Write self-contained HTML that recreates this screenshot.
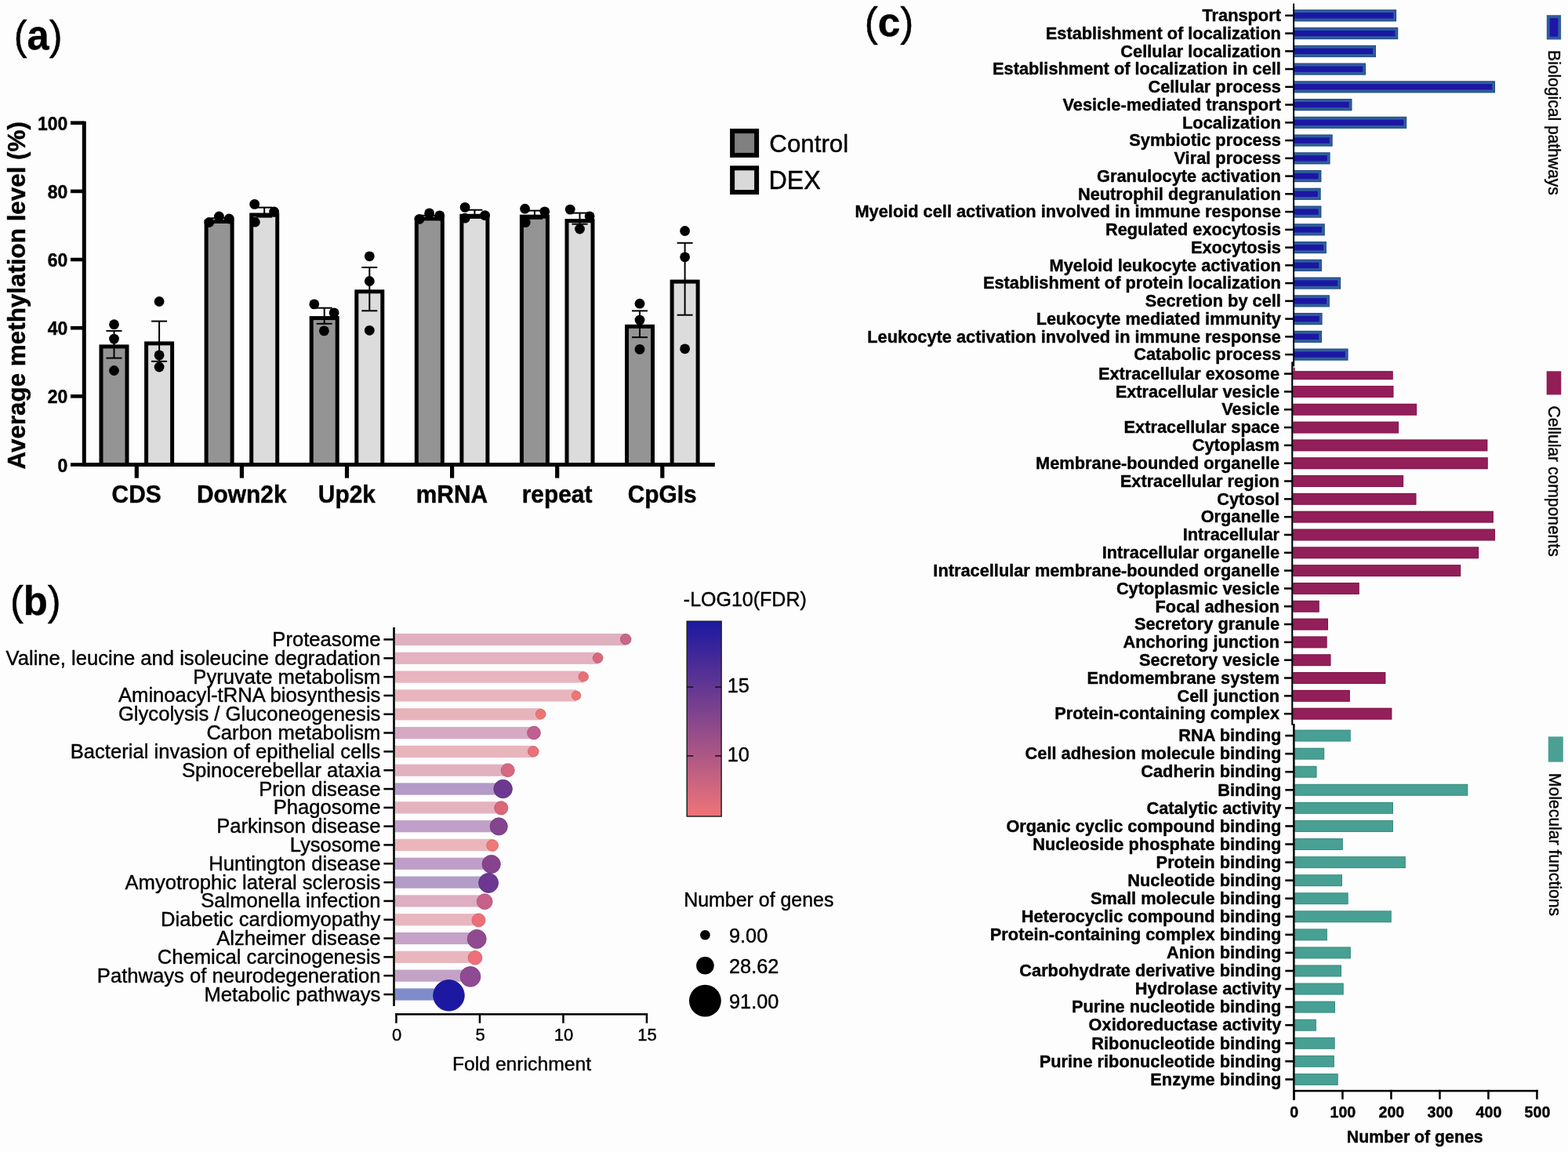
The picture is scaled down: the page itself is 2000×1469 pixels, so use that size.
<!DOCTYPE html>
<html><head><meta charset="utf-8"><title>Figure</title>
<style>
html,body{margin:0;padding:0;background:#fdfdfd;}
svg{display:block;}
text{font-family:'Liberation Sans', Arial, Helvetica, sans-serif;fill:#000;stroke:#000;stroke-width:0.4px;stroke-linejoin:round;}
</style></head>
<body>
<svg width="2000" height="1469" viewBox="0 0 2000 1469">
<rect width="2000" height="1469" fill="#fdfdfd"/>
<rect x="104.8" y="154.6" width="5" height="440.4" fill="#000"/>
<rect x="90" y="590.2" width="17" height="4.6" fill="#000"/>
<text transform="translate(86.35,601.54) scale(1.0520,1.0883)" font-size="21.8" font-weight="bold" text-anchor="end">0</text>
<rect x="90" y="503.0" width="17" height="4.6" fill="#000"/>
<text transform="translate(86.35,514.38) scale(1.0520,1.0883)" font-size="21.8" font-weight="bold" text-anchor="end">20</text>
<rect x="90" y="415.9" width="17" height="4.6" fill="#000"/>
<text transform="translate(86.35,427.22) scale(1.0520,1.0883)" font-size="21.8" font-weight="bold" text-anchor="end">40</text>
<rect x="90" y="328.7" width="17" height="4.6" fill="#000"/>
<text transform="translate(86.35,340.06) scale(1.0520,1.0883)" font-size="21.8" font-weight="bold" text-anchor="end">60</text>
<rect x="90" y="241.6" width="17" height="4.6" fill="#000"/>
<text transform="translate(86.35,252.90) scale(1.0520,1.0883)" font-size="21.8" font-weight="bold" text-anchor="end">80</text>
<rect x="90" y="154.4" width="17" height="4.6" fill="#000"/>
<text transform="translate(86.35,165.74) scale(1.0520,1.0883)" font-size="21.8" font-weight="bold" text-anchor="end">100</text>
<rect x="104.8" y="590" width="807" height="5" fill="#000"/>
<rect x="171.7" y="592" width="5.2" height="17.6" fill="#000"/>
<text transform="translate(174.14,641.23) scale(1.0229,1.0600)" font-size="29.2" font-weight="bold" text-anchor="middle">CDS</text>
<rect x="305.8" y="592" width="5.2" height="17.6" fill="#000"/>
<text transform="translate(308.24,641.23) scale(1.0229,1.0600)" font-size="29.2" font-weight="bold" text-anchor="middle">Down2k</text>
<rect x="439.9" y="592" width="5.2" height="17.6" fill="#000"/>
<text transform="translate(442.34,641.23) scale(1.0229,1.0600)" font-size="29.2" font-weight="bold" text-anchor="middle">Up2k</text>
<rect x="574.0" y="592" width="5.2" height="17.6" fill="#000"/>
<text transform="translate(576.44,641.23) scale(1.0229,1.0600)" font-size="29.2" font-weight="bold" text-anchor="middle">mRNA</text>
<rect x="708.1" y="592" width="5.2" height="17.6" fill="#000"/>
<text transform="translate(710.54,641.23) scale(1.0229,1.0600)" font-size="29.2" font-weight="bold" text-anchor="middle">repeat</text>
<rect x="842.2" y="592" width="5.2" height="17.6" fill="#000"/>
<text transform="translate(844.64,641.23) scale(1.0229,1.0600)" font-size="29.2" font-weight="bold" text-anchor="middle">CpGIs</text>
<rect x="126.5" y="439.4" width="38" height="151.6" fill="#000"/>
<rect x="131.5" y="444.4" width="28" height="145.6" fill="#949494"/>
<line x1="145.5" y1="421.9" x2="145.5" y2="456.6" stroke="#000" stroke-width="2"/>
<line x1="135.5" y1="421.9" x2="155.5" y2="421.9" stroke="#000" stroke-width="2"/>
<line x1="135.5" y1="456.6" x2="155.5" y2="456.6" stroke="#000" stroke-width="2"/>
<circle cx="145.5" cy="413.7" r="6.4" fill="#000"/>
<circle cx="145.5" cy="432.1" r="6.4" fill="#000"/>
<circle cx="145.5" cy="472.5" r="6.4" fill="#000"/>
<rect x="184.1" y="435.4" width="38" height="155.6" fill="#000"/>
<rect x="189.1" y="440.4" width="28" height="149.6" fill="#dcdcdc"/>
<line x1="203.1" y1="409.6" x2="203.1" y2="460.8" stroke="#000" stroke-width="2"/>
<line x1="193.1" y1="409.6" x2="213.1" y2="409.6" stroke="#000" stroke-width="2"/>
<line x1="193.1" y1="460.8" x2="213.1" y2="460.8" stroke="#000" stroke-width="2"/>
<circle cx="203.1" cy="384.5" r="6.4" fill="#000"/>
<circle cx="203.1" cy="452.9" r="6.4" fill="#000"/>
<circle cx="203.1" cy="468.0" r="6.4" fill="#000"/>
<rect x="260.6" y="280.0" width="38" height="311.0" fill="#000"/>
<rect x="265.6" y="285.0" width="28" height="305.0" fill="#949494"/>
<line x1="279.6" y1="278.2" x2="279.6" y2="281.8" stroke="#000" stroke-width="2"/>
<line x1="269.6" y1="278.2" x2="289.6" y2="278.2" stroke="#000" stroke-width="2"/>
<line x1="269.6" y1="281.8" x2="289.6" y2="281.8" stroke="#000" stroke-width="2"/>
<circle cx="266.8" cy="283.5" r="6.4" fill="#000"/>
<circle cx="279.4" cy="276.0" r="6.4" fill="#000"/>
<circle cx="292.3" cy="279.0" r="6.4" fill="#000"/>
<rect x="318.2" y="271.5" width="38" height="319.5" fill="#000"/>
<rect x="323.2" y="276.5" width="28" height="313.5" fill="#dcdcdc"/>
<line x1="337.2" y1="264.6" x2="337.2" y2="276.6" stroke="#000" stroke-width="2"/>
<line x1="327.2" y1="264.6" x2="347.2" y2="264.6" stroke="#000" stroke-width="2"/>
<line x1="327.2" y1="276.6" x2="347.2" y2="276.6" stroke="#000" stroke-width="2"/>
<circle cx="324.7" cy="260.4" r="6.4" fill="#000"/>
<circle cx="349.6" cy="270.0" r="6.4" fill="#000"/>
<circle cx="325.3" cy="283.2" r="6.4" fill="#000"/>
<rect x="394.7" y="403.1" width="38" height="187.9" fill="#000"/>
<rect x="399.7" y="408.1" width="28" height="181.9" fill="#949494"/>
<line x1="413.7" y1="392.7" x2="413.7" y2="412.8" stroke="#000" stroke-width="2"/>
<line x1="403.7" y1="392.7" x2="423.7" y2="392.7" stroke="#000" stroke-width="2"/>
<line x1="403.7" y1="412.8" x2="423.7" y2="412.8" stroke="#000" stroke-width="2"/>
<circle cx="400.8" cy="387.9" r="6.4" fill="#000"/>
<circle cx="426.1" cy="398.9" r="6.4" fill="#000"/>
<circle cx="413.4" cy="421.9" r="6.4" fill="#000"/>
<rect x="452.3" y="369.3" width="38" height="221.7" fill="#000"/>
<rect x="457.3" y="374.3" width="28" height="215.7" fill="#dcdcdc"/>
<line x1="471.3" y1="341.0" x2="471.3" y2="396.3" stroke="#000" stroke-width="2"/>
<line x1="461.3" y1="341.0" x2="481.3" y2="341.0" stroke="#000" stroke-width="2"/>
<line x1="461.3" y1="396.3" x2="481.3" y2="396.3" stroke="#000" stroke-width="2"/>
<circle cx="471.3" cy="326.8" r="6.4" fill="#000"/>
<circle cx="471.3" cy="358.5" r="6.4" fill="#000"/>
<circle cx="471.3" cy="421.3" r="6.4" fill="#000"/>
<rect x="528.8" y="276.4" width="38" height="314.6" fill="#000"/>
<rect x="533.8" y="281.4" width="28" height="308.6" fill="#949494"/>
<line x1="547.8" y1="274.8" x2="547.8" y2="278.0" stroke="#000" stroke-width="2"/>
<line x1="537.8" y1="274.8" x2="557.8" y2="274.8" stroke="#000" stroke-width="2"/>
<line x1="537.8" y1="278.0" x2="557.8" y2="278.0" stroke="#000" stroke-width="2"/>
<circle cx="535.0" cy="279.4" r="6.4" fill="#000"/>
<circle cx="547.6" cy="271.9" r="6.4" fill="#000"/>
<circle cx="560.8" cy="274.9" r="6.4" fill="#000"/>
<rect x="586.4" y="272.8" width="38" height="318.2" fill="#000"/>
<rect x="591.4" y="277.8" width="28" height="312.2" fill="#dcdcdc"/>
<line x1="605.4" y1="267.7" x2="605.4" y2="277.9" stroke="#000" stroke-width="2"/>
<line x1="595.4" y1="267.7" x2="615.4" y2="267.7" stroke="#000" stroke-width="2"/>
<line x1="595.4" y1="277.9" x2="615.4" y2="277.9" stroke="#000" stroke-width="2"/>
<circle cx="593.1" cy="264.4" r="6.4" fill="#000"/>
<circle cx="618.6" cy="274.6" r="6.4" fill="#000"/>
<circle cx="593.1" cy="278.2" r="6.4" fill="#000"/>
<rect x="662.9" y="273.7" width="38" height="317.3" fill="#000"/>
<rect x="667.9" y="278.7" width="28" height="311.3" fill="#949494"/>
<line x1="681.9" y1="268.6" x2="681.9" y2="278.8" stroke="#000" stroke-width="2"/>
<line x1="671.9" y1="268.6" x2="691.9" y2="268.6" stroke="#000" stroke-width="2"/>
<line x1="671.9" y1="278.8" x2="691.9" y2="278.8" stroke="#000" stroke-width="2"/>
<circle cx="669.6" cy="266.2" r="6.4" fill="#000"/>
<circle cx="694.8" cy="269.8" r="6.4" fill="#000"/>
<circle cx="670.2" cy="283.6" r="6.4" fill="#000"/>
<rect x="720.5" y="279.1" width="38" height="311.9" fill="#000"/>
<rect x="725.5" y="284.1" width="28" height="305.9" fill="#dcdcdc"/>
<line x1="739.5" y1="271.6" x2="739.5" y2="285.7" stroke="#000" stroke-width="2"/>
<line x1="729.5" y1="271.6" x2="749.5" y2="271.6" stroke="#000" stroke-width="2"/>
<line x1="729.5" y1="285.7" x2="749.5" y2="285.7" stroke="#000" stroke-width="2"/>
<circle cx="727.2" cy="267.1" r="6.4" fill="#000"/>
<circle cx="752.1" cy="275.8" r="6.4" fill="#000"/>
<circle cx="739.5" cy="292.0" r="6.4" fill="#000"/>
<rect x="797.0" y="413.8" width="38" height="177.2" fill="#000"/>
<rect x="802.0" y="418.8" width="28" height="171.2" fill="#949494"/>
<line x1="816.0" y1="396.4" x2="816.0" y2="430.1" stroke="#000" stroke-width="2"/>
<line x1="806.0" y1="396.4" x2="826.0" y2="396.4" stroke="#000" stroke-width="2"/>
<line x1="806.0" y1="430.1" x2="826.0" y2="430.1" stroke="#000" stroke-width="2"/>
<circle cx="816.0" cy="387.2" r="6.4" fill="#000"/>
<circle cx="816.0" cy="408.1" r="6.4" fill="#000"/>
<circle cx="816.0" cy="445.4" r="6.4" fill="#000"/>
<rect x="854.6" y="356.6" width="38" height="234.4" fill="#000"/>
<rect x="859.6" y="361.6" width="28" height="228.4" fill="#dcdcdc"/>
<line x1="873.6" y1="309.8" x2="873.6" y2="401.7" stroke="#000" stroke-width="2"/>
<line x1="863.6" y1="309.8" x2="883.6" y2="309.8" stroke="#000" stroke-width="2"/>
<line x1="863.6" y1="401.7" x2="883.6" y2="401.7" stroke="#000" stroke-width="2"/>
<circle cx="873.6" cy="294.5" r="6.4" fill="#000"/>
<circle cx="873.6" cy="327.8" r="6.4" fill="#000"/>
<circle cx="873.6" cy="444.8" r="6.4" fill="#000"/>
<text transform="translate(31.60,598.51) rotate(-90) scale(1.0028,1.0000)" font-size="31.3" font-weight="bold">Average methylation level (%)</text>
<rect x="931.1" y="164.1" width="37" height="36.8" fill="#000"/>
<rect x="937.1" y="170.1" width="25" height="24.8" fill="#808080"/>
<text transform="translate(981.34,194.20) scale(1.0266,1.0247)" font-size="30.5">Control</text>
<rect x="931.1" y="211.3" width="37" height="36.8" fill="#000"/>
<rect x="937.1" y="217.3" width="25" height="24.8" fill="#d9d9d9"/>
<text transform="translate(980.54,240.87) scale(1.0582,1.1012)" font-size="30.5">DEX</text>
<text transform="translate(17.74,62.74) scale(1.0118,1.0415)" font-size="50"><tspan>(</tspan><tspan font-weight="bold">a</tspan><tspan>)</tspan></text>
<rect x="503.8" y="807.90" width="294.4" height="15.2" fill="#dfb0c0"/>
<circle cx="798.2" cy="815.2" r="6.80" fill="#c9658a" stroke="#aa5575" stroke-width="0.8"/>
<rect x="489.4" y="814.2" width="13.5" height="2.5" fill="#000"/>
<text transform="translate(485.41,824.02) scale(1.0047,1.0000)" font-size="25.5" text-anchor="end">Proteasome</text>
<rect x="503.8" y="831.72" width="258.8" height="15.2" fill="#e4b2c0"/>
<circle cx="762.6" cy="839.0" r="6.40" fill="#d86878" stroke="#b75866" stroke-width="0.8"/>
<rect x="489.4" y="838.1" width="13.5" height="2.5" fill="#000"/>
<text transform="translate(485.41,847.84) scale(1.0047,1.0000)" font-size="25.5" text-anchor="end">Valine, leucine and isoleucine degradation</text>
<rect x="503.8" y="855.53" width="240.4" height="15.2" fill="#e8b4bd"/>
<circle cx="744.2" cy="862.9" r="6.20" fill="#e87078" stroke="#c55f66" stroke-width="0.8"/>
<rect x="489.4" y="861.9" width="13.5" height="2.5" fill="#000"/>
<text transform="translate(485.41,871.65) scale(1.0047,1.0000)" font-size="25.5" text-anchor="end">Pyruvate metabolism</text>
<rect x="503.8" y="879.35" width="231.2" height="15.2" fill="#e9b5bc"/>
<circle cx="735" cy="886.9" r="5.80" fill="#ef7575" stroke="#cb6363" stroke-width="0.8"/>
<rect x="489.4" y="885.7" width="13.5" height="2.5" fill="#000"/>
<text transform="translate(485.41,895.47) scale(1.0047,1.0000)" font-size="25.5" text-anchor="end">Aminoacyl-tRNA biosynthesis</text>
<rect x="503.8" y="903.16" width="185.9" height="15.2" fill="#e8b4bc"/>
<circle cx="689.7" cy="910.6" r="6.35" fill="#ef7575" stroke="#cb6363" stroke-width="0.8"/>
<rect x="489.4" y="909.5" width="13.5" height="2.5" fill="#000"/>
<text transform="translate(485.41,919.29) scale(1.0047,1.0000)" font-size="25.5" text-anchor="end">Glycolysis / Gluconeogenesis</text>
<rect x="503.8" y="926.98" width="177.2" height="15.2" fill="#d6a9c2"/>
<circle cx="681" cy="934.5" r="8.40" fill="#c06090" stroke="#a3517a" stroke-width="0.8"/>
<rect x="489.4" y="933.3" width="13.5" height="2.5" fill="#000"/>
<text transform="translate(485.41,943.10) scale(1.0047,1.0000)" font-size="25.5" text-anchor="end">Carbon metabolism</text>
<rect x="503.8" y="950.80" width="176.5" height="15.2" fill="#e8b5bd"/>
<circle cx="680.3" cy="958.3" r="6.80" fill="#ec7078" stroke="#c85f66" stroke-width="0.8"/>
<rect x="489.4" y="957.1" width="13.5" height="2.5" fill="#000"/>
<text transform="translate(485.41,966.92) scale(1.0047,1.0000)" font-size="25.5" text-anchor="end">Bacterial invasion of epithelial cells</text>
<rect x="503.8" y="974.61" width="143.9" height="15.2" fill="#e2b1c1"/>
<circle cx="647.7" cy="982.2" r="8.50" fill="#d8687e" stroke="#b7586b" stroke-width="0.8"/>
<rect x="489.4" y="981.0" width="13.5" height="2.5" fill="#000"/>
<text transform="translate(485.41,990.73) scale(1.0047,1.0000)" font-size="25.5" text-anchor="end">Spinocerebellar ataxia</text>
<rect x="503.8" y="998.43" width="137.8" height="15.2" fill="#b39ac7"/>
<circle cx="641.6" cy="1006.0" r="11.80" fill="#6c3890" stroke="#5b2f7a" stroke-width="0.8"/>
<rect x="489.4" y="1004.8" width="13.5" height="2.5" fill="#000"/>
<text transform="translate(485.41,1014.55) scale(1.0047,1.0000)" font-size="25.5" text-anchor="end">Prion disease</text>
<rect x="503.8" y="1022.24" width="135.5" height="15.2" fill="#e4b3c0"/>
<circle cx="639.3" cy="1030.3" r="8.60" fill="#da6878" stroke="#b95866" stroke-width="0.8"/>
<rect x="489.4" y="1028.6" width="13.5" height="2.5" fill="#000"/>
<text transform="translate(485.41,1038.37) scale(1.0047,1.0000)" font-size="25.5" text-anchor="end">Phagosome</text>
<rect x="503.8" y="1046.06" width="132.4" height="15.2" fill="#c0a0c9"/>
<circle cx="636.2" cy="1053.9" r="11.10" fill="#84448e" stroke="#703978" stroke-width="0.8"/>
<rect x="489.4" y="1052.4" width="13.5" height="2.5" fill="#000"/>
<text transform="translate(485.41,1062.18) scale(1.0047,1.0000)" font-size="25.5" text-anchor="end">Parkinson disease</text>
<rect x="503.8" y="1069.88" width="124.3" height="15.2" fill="#eab6bc"/>
<circle cx="628.1" cy="1078.1" r="7.40" fill="#f07878" stroke="#cc6666" stroke-width="0.8"/>
<rect x="489.4" y="1076.2" width="13.5" height="2.5" fill="#000"/>
<text transform="translate(485.41,1086.00) scale(1.0047,1.0000)" font-size="25.5" text-anchor="end">Lysosome</text>
<rect x="503.8" y="1093.69" width="122.9" height="15.2" fill="#bf9fc9"/>
<circle cx="626.7" cy="1102.0" r="11.60" fill="#86448e" stroke="#713978" stroke-width="0.8"/>
<rect x="489.4" y="1100.0" width="13.5" height="2.5" fill="#000"/>
<text transform="translate(485.41,1109.81) scale(1.0047,1.0000)" font-size="25.5" text-anchor="end">Huntington disease</text>
<rect x="503.8" y="1117.51" width="119.3" height="15.2" fill="#b29cc8"/>
<circle cx="623.1" cy="1125.9" r="12.50" fill="#6c3892" stroke="#5b2f7c" stroke-width="0.8"/>
<rect x="489.4" y="1123.9" width="13.5" height="2.5" fill="#000"/>
<text transform="translate(485.41,1133.63) scale(1.0047,1.0000)" font-size="25.5" text-anchor="end">Amyotrophic lateral sclerosis</text>
<rect x="503.8" y="1141.32" width="114.4" height="15.2" fill="#deaec2"/>
<circle cx="618.2" cy="1149.7" r="9.90" fill="#c9608a" stroke="#aa5175" stroke-width="0.8"/>
<rect x="489.4" y="1147.7" width="13.5" height="2.5" fill="#000"/>
<text transform="translate(485.41,1157.45) scale(1.0047,1.0000)" font-size="25.5" text-anchor="end">Salmonella infection</text>
<rect x="503.8" y="1165.14" width="106.7" height="15.2" fill="#e8b6be"/>
<circle cx="610.5" cy="1173.4" r="8.50" fill="#ec7078" stroke="#c85f66" stroke-width="0.8"/>
<rect x="489.4" y="1171.5" width="13.5" height="2.5" fill="#000"/>
<text transform="translate(485.41,1181.26) scale(1.0047,1.0000)" font-size="25.5" text-anchor="end">Diabetic cardiomyopathy</text>
<rect x="503.8" y="1188.96" width="104.4" height="15.2" fill="#c5a2c6"/>
<circle cx="608.2" cy="1197.4" r="12.00" fill="#904a90" stroke="#7a3e7a" stroke-width="0.8"/>
<rect x="489.4" y="1195.3" width="13.5" height="2.5" fill="#000"/>
<text transform="translate(485.41,1205.08) scale(1.0047,1.0000)" font-size="25.5" text-anchor="end">Alzheimer disease</text>
<rect x="503.8" y="1212.77" width="102.2" height="15.2" fill="#e8b6be"/>
<circle cx="606" cy="1221.3" r="8.90" fill="#ee7078" stroke="#ca5f66" stroke-width="0.8"/>
<rect x="489.4" y="1219.1" width="13.5" height="2.5" fill="#000"/>
<text transform="translate(485.41,1228.89) scale(1.0047,1.0000)" font-size="25.5" text-anchor="end">Chemical carcinogenesis</text>
<rect x="503.8" y="1236.59" width="96.2" height="15.2" fill="#c4a2c8"/>
<circle cx="600" cy="1245.4" r="12.90" fill="#8e4a92" stroke="#783e7c" stroke-width="0.8"/>
<rect x="489.4" y="1242.9" width="13.5" height="2.5" fill="#000"/>
<text transform="translate(485.41,1252.71) scale(1.0047,1.0000)" font-size="25.5" text-anchor="end">Pathways of neurodegeneration</text>
<rect x="503.8" y="1260.40" width="68.7" height="15.2" fill="#7f8ccb"/>
<circle cx="572.5" cy="1269.3" r="19.80" fill="#1c18a2" stroke="#171489" stroke-width="0.8"/>
<rect x="489.4" y="1266.8" width="13.5" height="2.5" fill="#000"/>
<text transform="translate(485.41,1276.53) scale(1.0047,1.0000)" font-size="25.5" text-anchor="end">Metabolic pathways</text>
<rect x="501.2" y="799.9" width="2.6" height="483" fill="#000"/>
<rect x="504.2" y="1292.1" width="321.9" height="2.5" fill="#000"/>
<rect x="504.2" y="1292.1" width="2.5" height="12.6" fill="#000"/>
<text transform="translate(506.13,1327.46) scale(1.0420,1.0860)" font-size="21.1" text-anchor="middle">0</text>
<rect x="610.7" y="1292.1" width="2.5" height="12.6" fill="#000"/>
<text transform="translate(612.60,1327.46) scale(1.0420,1.0860)" font-size="21.1" text-anchor="middle">5</text>
<rect x="717.2" y="1292.1" width="2.5" height="12.6" fill="#000"/>
<text transform="translate(719.07,1327.46) scale(1.0420,1.0860)" font-size="21.1" text-anchor="middle">10</text>
<rect x="823.7" y="1292.1" width="2.5" height="12.6" fill="#000"/>
<text transform="translate(825.54,1327.46) scale(1.0420,1.0860)" font-size="21.1" text-anchor="middle">15</text>
<text transform="translate(576.97,1365.14) scale(1.0087,0.9780)" font-size="24.5">Fold enrichment</text>
<defs><linearGradient id="cb" x1="0" y1="0" x2="0" y2="1"><stop offset="0" stop-color="#1c18a0"/><stop offset="1" stop-color="#f07478"/></linearGradient></defs>
<rect x="876.2" y="792.3" width="43.9" height="248.7" fill="url(#cb)" stroke="#222" stroke-width="1.5"/>
<line x1="876.2" y1="876.1" x2="884.2" y2="876.1" stroke="#111" stroke-width="1.5"/>
<line x1="912.1" y1="876.1" x2="920.1" y2="876.1" stroke="#111" stroke-width="1.5"/>
<text transform="translate(927.77,883.21) scale(1.0420,1.0860)" font-size="24.3">15</text>
<line x1="876.2" y1="963.9" x2="884.2" y2="963.9" stroke="#111" stroke-width="1.5"/>
<line x1="912.1" y1="963.9" x2="920.1" y2="963.9" stroke="#111" stroke-width="1.5"/>
<text transform="translate(927.77,971.01) scale(1.0420,1.0860)" font-size="24.3">10</text>
<text transform="translate(871.87,773.32) scale(1.0120,1.0169)" font-size="24.7">-LOG10(FDR)</text>
<text transform="translate(872.25,1156.23) scale(1.0153,1.0325)" font-size="24.56">Number of genes</text>
<circle cx="899.4" cy="1192.2" r="6.3" fill="#000"/>
<text transform="translate(930.02,1201.97) scale(1.0417,1.0900)" font-size="24.3">9.00</text>
<circle cx="899.4" cy="1231.2" r="11.3" fill="#000"/>
<text transform="translate(930.02,1240.97) scale(1.0417,1.0900)" font-size="24.3">28.62</text>
<circle cx="899.4" cy="1276.2" r="20.4" fill="#000"/>
<text transform="translate(930.02,1285.97) scale(1.0417,1.0900)" font-size="24.3">91.00</text>
<text transform="translate(12.93,783.93) scale(1.0147,1.0327)" font-size="50"><tspan>(</tspan><tspan font-weight="bold">b</tspan><tspan>)</tspan></text>
<rect x="1651.0" y="12.20" width="130.1" height="15.2" fill="#1f4a85"/>
<rect x="1651.0" y="13.20" width="129.1" height="13.2" fill="#2f5f9b"/>
<rect x="1651.0" y="16.10" width="126.3" height="7.4" fill="#1c16a4"/>
<rect x="1639.2" y="18.55" width="10.8" height="2.5" fill="#000"/>
<text transform="translate(1633.90,27.05) scale(1.0041,1.0000)" font-size="21.7" font-weight="bold" text-anchor="end">Transport</text>
<rect x="1651.0" y="34.95" width="132.2" height="15.2" fill="#1f4a85"/>
<rect x="1651.0" y="35.95" width="131.2" height="13.2" fill="#2f5f9b"/>
<rect x="1651.0" y="38.85" width="128.4" height="7.4" fill="#1c16a4"/>
<rect x="1639.2" y="41.30" width="10.8" height="2.5" fill="#000"/>
<text transform="translate(1633.90,49.80) scale(1.0041,1.0000)" font-size="21.7" font-weight="bold" text-anchor="end">Establishment of localization</text>
<rect x="1651.0" y="57.71" width="104.0" height="15.2" fill="#1f4a85"/>
<rect x="1651.0" y="58.71" width="103.0" height="13.2" fill="#2f5f9b"/>
<rect x="1651.0" y="61.61" width="100.2" height="7.4" fill="#1c16a4"/>
<rect x="1639.2" y="64.06" width="10.8" height="2.5" fill="#000"/>
<text transform="translate(1633.90,72.56) scale(1.0041,1.0000)" font-size="21.7" font-weight="bold" text-anchor="end">Cellular localization</text>
<rect x="1651.0" y="80.46" width="91.0" height="15.2" fill="#1f4a85"/>
<rect x="1651.0" y="81.46" width="90.0" height="13.2" fill="#2f5f9b"/>
<rect x="1651.0" y="84.36" width="87.2" height="7.4" fill="#1c16a4"/>
<rect x="1639.2" y="86.81" width="10.8" height="2.5" fill="#000"/>
<text transform="translate(1633.90,95.31) scale(1.0041,1.0000)" font-size="21.7" font-weight="bold" text-anchor="end">Establishment of localization in cell</text>
<rect x="1651.0" y="103.21" width="256.0" height="15.2" fill="#1f4a85"/>
<rect x="1651.0" y="104.21" width="255.0" height="13.2" fill="#2f5f9b"/>
<rect x="1651.0" y="107.11" width="252.2" height="7.4" fill="#1c16a4"/>
<rect x="1639.2" y="109.56" width="10.8" height="2.5" fill="#000"/>
<text transform="translate(1633.90,118.06) scale(1.0041,1.0000)" font-size="21.7" font-weight="bold" text-anchor="end">Cellular process</text>
<rect x="1651.0" y="125.97" width="73.5" height="15.2" fill="#1f4a85"/>
<rect x="1651.0" y="126.97" width="72.5" height="13.2" fill="#2f5f9b"/>
<rect x="1651.0" y="129.87" width="69.7" height="7.4" fill="#1c16a4"/>
<rect x="1639.2" y="132.31" width="10.8" height="2.5" fill="#000"/>
<text transform="translate(1633.90,140.81) scale(1.0041,1.0000)" font-size="21.7" font-weight="bold" text-anchor="end">Vesicle-mediated transport</text>
<rect x="1651.0" y="148.72" width="143.2" height="15.2" fill="#1f4a85"/>
<rect x="1651.0" y="149.72" width="142.2" height="13.2" fill="#2f5f9b"/>
<rect x="1651.0" y="152.62" width="139.4" height="7.4" fill="#1c16a4"/>
<rect x="1639.2" y="155.07" width="10.8" height="2.5" fill="#000"/>
<text transform="translate(1633.90,163.57) scale(1.0041,1.0000)" font-size="21.7" font-weight="bold" text-anchor="end">Localization</text>
<rect x="1651.0" y="171.47" width="48.7" height="15.2" fill="#1f4a85"/>
<rect x="1651.0" y="172.47" width="47.7" height="13.2" fill="#2f5f9b"/>
<rect x="1651.0" y="175.37" width="44.9" height="7.4" fill="#1c16a4"/>
<rect x="1639.2" y="177.82" width="10.8" height="2.5" fill="#000"/>
<text transform="translate(1633.90,186.32) scale(1.0041,1.0000)" font-size="21.7" font-weight="bold" text-anchor="end">Symbiotic process</text>
<rect x="1651.0" y="194.22" width="45.6" height="15.2" fill="#1f4a85"/>
<rect x="1651.0" y="195.22" width="44.6" height="13.2" fill="#2f5f9b"/>
<rect x="1651.0" y="198.12" width="41.8" height="7.4" fill="#1c16a4"/>
<rect x="1639.2" y="200.57" width="10.8" height="2.5" fill="#000"/>
<text transform="translate(1633.90,209.07) scale(1.0041,1.0000)" font-size="21.7" font-weight="bold" text-anchor="end">Viral process</text>
<rect x="1651.0" y="216.98" width="34.4" height="15.2" fill="#1f4a85"/>
<rect x="1651.0" y="217.98" width="33.4" height="13.2" fill="#2f5f9b"/>
<rect x="1651.0" y="220.88" width="30.6" height="7.4" fill="#1c16a4"/>
<rect x="1639.2" y="223.33" width="10.8" height="2.5" fill="#000"/>
<text transform="translate(1633.90,231.83) scale(1.0041,1.0000)" font-size="21.7" font-weight="bold" text-anchor="end">Granulocyte activation</text>
<rect x="1651.0" y="239.73" width="33.7" height="15.2" fill="#1f4a85"/>
<rect x="1651.0" y="240.73" width="32.7" height="13.2" fill="#2f5f9b"/>
<rect x="1651.0" y="243.63" width="29.9" height="7.4" fill="#1c16a4"/>
<rect x="1639.2" y="246.08" width="10.8" height="2.5" fill="#000"/>
<text transform="translate(1633.90,254.58) scale(1.0041,1.0000)" font-size="21.7" font-weight="bold" text-anchor="end">Neutrophil degranulation</text>
<rect x="1651.0" y="262.48" width="34.4" height="15.2" fill="#1f4a85"/>
<rect x="1651.0" y="263.48" width="33.4" height="13.2" fill="#2f5f9b"/>
<rect x="1651.0" y="266.38" width="30.6" height="7.4" fill="#1c16a4"/>
<rect x="1639.2" y="268.83" width="10.8" height="2.5" fill="#000"/>
<text transform="translate(1633.90,277.33) scale(1.0041,1.0000)" font-size="21.7" font-weight="bold" text-anchor="end">Myeloid cell activation involved in immune response</text>
<rect x="1651.0" y="285.24" width="38.8" height="15.2" fill="#1f4a85"/>
<rect x="1651.0" y="286.24" width="37.8" height="13.2" fill="#2f5f9b"/>
<rect x="1651.0" y="289.14" width="35.0" height="7.4" fill="#1c16a4"/>
<rect x="1639.2" y="291.59" width="10.8" height="2.5" fill="#000"/>
<text transform="translate(1633.90,300.09) scale(1.0041,1.0000)" font-size="21.7" font-weight="bold" text-anchor="end">Regulated exocytosis</text>
<rect x="1651.0" y="307.99" width="40.9" height="15.2" fill="#1f4a85"/>
<rect x="1651.0" y="308.99" width="39.9" height="13.2" fill="#2f5f9b"/>
<rect x="1651.0" y="311.89" width="37.1" height="7.4" fill="#1c16a4"/>
<rect x="1639.2" y="314.34" width="10.8" height="2.5" fill="#000"/>
<text transform="translate(1633.90,322.84) scale(1.0041,1.0000)" font-size="21.7" font-weight="bold" text-anchor="end">Exocytosis</text>
<rect x="1651.0" y="330.74" width="35.0" height="15.2" fill="#1f4a85"/>
<rect x="1651.0" y="331.74" width="34.0" height="13.2" fill="#2f5f9b"/>
<rect x="1651.0" y="334.64" width="31.2" height="7.4" fill="#1c16a4"/>
<rect x="1639.2" y="337.09" width="10.8" height="2.5" fill="#000"/>
<text transform="translate(1633.90,345.59) scale(1.0041,1.0000)" font-size="21.7" font-weight="bold" text-anchor="end">Myeloid leukocyte activation</text>
<rect x="1651.0" y="353.50" width="59.1" height="15.2" fill="#1f4a85"/>
<rect x="1651.0" y="354.50" width="58.1" height="13.2" fill="#2f5f9b"/>
<rect x="1651.0" y="357.40" width="55.3" height="7.4" fill="#1c16a4"/>
<rect x="1639.2" y="359.85" width="10.8" height="2.5" fill="#000"/>
<text transform="translate(1633.90,368.35) scale(1.0041,1.0000)" font-size="21.7" font-weight="bold" text-anchor="end">Establishment of protein localization</text>
<rect x="1651.0" y="376.25" width="44.9" height="15.2" fill="#1f4a85"/>
<rect x="1651.0" y="377.25" width="43.9" height="13.2" fill="#2f5f9b"/>
<rect x="1651.0" y="380.15" width="41.1" height="7.4" fill="#1c16a4"/>
<rect x="1639.2" y="382.60" width="10.8" height="2.5" fill="#000"/>
<text transform="translate(1633.90,391.10) scale(1.0041,1.0000)" font-size="21.7" font-weight="bold" text-anchor="end">Secretion by cell</text>
<rect x="1651.0" y="399.00" width="35.6" height="15.2" fill="#1f4a85"/>
<rect x="1651.0" y="400.00" width="34.6" height="13.2" fill="#2f5f9b"/>
<rect x="1651.0" y="402.90" width="31.8" height="7.4" fill="#1c16a4"/>
<rect x="1639.2" y="405.35" width="10.8" height="2.5" fill="#000"/>
<text transform="translate(1633.90,413.85) scale(1.0041,1.0000)" font-size="21.7" font-weight="bold" text-anchor="end">Leukocyte mediated immunity</text>
<rect x="1651.0" y="421.75" width="35.0" height="15.2" fill="#1f4a85"/>
<rect x="1651.0" y="422.75" width="34.0" height="13.2" fill="#2f5f9b"/>
<rect x="1651.0" y="425.65" width="31.2" height="7.4" fill="#1c16a4"/>
<rect x="1639.2" y="428.10" width="10.8" height="2.5" fill="#000"/>
<text transform="translate(1633.90,436.60) scale(1.0041,1.0000)" font-size="21.7" font-weight="bold" text-anchor="end">Leukocyte activation involved in immune response</text>
<rect x="1651.0" y="444.51" width="68.6" height="15.2" fill="#1f4a85"/>
<rect x="1651.0" y="445.51" width="67.6" height="13.2" fill="#2f5f9b"/>
<rect x="1651.0" y="448.41" width="64.8" height="7.4" fill="#1c16a4"/>
<rect x="1639.2" y="450.86" width="10.8" height="2.5" fill="#000"/>
<text transform="translate(1633.90,459.36) scale(1.0041,1.0000)" font-size="21.7" font-weight="bold" text-anchor="end">Catabolic process</text>
<rect x="1649.1" y="4.5" width="2.0" height="462.7" fill="#000"/>
<rect x="1649.6" y="468.6" width="2.0" height="4.7" fill="#8a1850"/>
<rect x="1649.2" y="473.10" width="127.6" height="11.00" fill="#80124a"/>
<rect x="1649.2" y="474.10" width="126.6" height="9.00" fill="#921f59"/>
<rect x="1638.0" y="475.35" width="10.2" height="2.5" fill="#000"/>
<text transform="translate(1632.10,483.85) scale(1.0041,1.0000)" font-size="21.7" font-weight="bold" text-anchor="end">Extracellular exosome</text>
<rect x="1649.2" y="491.92" width="128.3" height="15.00" fill="#80124a"/>
<rect x="1649.2" y="492.92" width="127.3" height="13.00" fill="#921f59"/>
<rect x="1638.0" y="498.17" width="10.2" height="2.5" fill="#000"/>
<text transform="translate(1632.10,506.67) scale(1.0041,1.0000)" font-size="21.7" font-weight="bold" text-anchor="end">Extracellular vesicle</text>
<rect x="1649.2" y="514.74" width="157.9" height="15.00" fill="#80124a"/>
<rect x="1649.2" y="515.74" width="156.9" height="13.00" fill="#921f59"/>
<rect x="1638.0" y="520.99" width="10.2" height="2.5" fill="#000"/>
<text transform="translate(1632.10,529.49) scale(1.0041,1.0000)" font-size="21.7" font-weight="bold" text-anchor="end">Vesicle</text>
<rect x="1649.2" y="537.56" width="134.8" height="15.00" fill="#80124a"/>
<rect x="1649.2" y="538.56" width="133.8" height="13.00" fill="#921f59"/>
<rect x="1638.0" y="543.81" width="10.2" height="2.5" fill="#000"/>
<text transform="translate(1632.10,552.31) scale(1.0041,1.0000)" font-size="21.7" font-weight="bold" text-anchor="end">Extracellular space</text>
<rect x="1649.2" y="560.38" width="248.2" height="15.00" fill="#80124a"/>
<rect x="1649.2" y="561.38" width="247.2" height="13.00" fill="#921f59"/>
<rect x="1638.0" y="566.63" width="10.2" height="2.5" fill="#000"/>
<text transform="translate(1632.10,575.13) scale(1.0041,1.0000)" font-size="21.7" font-weight="bold" text-anchor="end">Cytoplasm</text>
<rect x="1649.2" y="583.20" width="248.6" height="15.00" fill="#80124a"/>
<rect x="1649.2" y="584.20" width="247.6" height="13.00" fill="#921f59"/>
<rect x="1638.0" y="589.45" width="10.2" height="2.5" fill="#000"/>
<text transform="translate(1632.10,597.95) scale(1.0041,1.0000)" font-size="21.7" font-weight="bold" text-anchor="end">Membrane-bounded organelle</text>
<rect x="1649.2" y="606.02" width="140.9" height="15.00" fill="#80124a"/>
<rect x="1649.2" y="607.02" width="139.9" height="13.00" fill="#921f59"/>
<rect x="1638.0" y="612.27" width="10.2" height="2.5" fill="#000"/>
<text transform="translate(1632.10,620.77) scale(1.0041,1.0000)" font-size="21.7" font-weight="bold" text-anchor="end">Extracellular region</text>
<rect x="1649.2" y="628.84" width="157.3" height="15.00" fill="#80124a"/>
<rect x="1649.2" y="629.84" width="156.3" height="13.00" fill="#921f59"/>
<rect x="1638.0" y="635.09" width="10.2" height="2.5" fill="#000"/>
<text transform="translate(1632.10,643.59) scale(1.0041,1.0000)" font-size="21.7" font-weight="bold" text-anchor="end">Cytosol</text>
<rect x="1649.2" y="651.66" width="255.7" height="15.00" fill="#80124a"/>
<rect x="1649.2" y="652.66" width="254.7" height="13.00" fill="#921f59"/>
<rect x="1638.0" y="657.91" width="10.2" height="2.5" fill="#000"/>
<text transform="translate(1632.10,666.41) scale(1.0041,1.0000)" font-size="21.7" font-weight="bold" text-anchor="end">Organelle</text>
<rect x="1649.2" y="674.48" width="257.8" height="15.00" fill="#80124a"/>
<rect x="1649.2" y="675.48" width="256.8" height="13.00" fill="#921f59"/>
<rect x="1638.0" y="680.73" width="10.2" height="2.5" fill="#000"/>
<text transform="translate(1632.10,689.23) scale(1.0041,1.0000)" font-size="21.7" font-weight="bold" text-anchor="end">Intracellular</text>
<rect x="1649.2" y="697.30" width="236.9" height="15.00" fill="#80124a"/>
<rect x="1649.2" y="698.30" width="235.9" height="13.00" fill="#921f59"/>
<rect x="1638.0" y="703.55" width="10.2" height="2.5" fill="#000"/>
<text transform="translate(1632.10,712.05) scale(1.0041,1.0000)" font-size="21.7" font-weight="bold" text-anchor="end">Intracellular organelle</text>
<rect x="1649.2" y="720.12" width="214.0" height="15.00" fill="#80124a"/>
<rect x="1649.2" y="721.12" width="213.0" height="13.00" fill="#921f59"/>
<rect x="1638.0" y="726.37" width="10.2" height="2.5" fill="#000"/>
<text transform="translate(1632.10,734.87) scale(1.0041,1.0000)" font-size="21.7" font-weight="bold" text-anchor="end">Intracellular membrane-bounded organelle</text>
<rect x="1649.2" y="742.94" width="84.6" height="15.00" fill="#80124a"/>
<rect x="1649.2" y="743.94" width="83.6" height="13.00" fill="#921f59"/>
<rect x="1638.0" y="749.19" width="10.2" height="2.5" fill="#000"/>
<text transform="translate(1632.10,757.69) scale(1.0041,1.0000)" font-size="21.7" font-weight="bold" text-anchor="end">Cytoplasmic vesicle</text>
<rect x="1649.2" y="765.76" width="33.6" height="15.00" fill="#80124a"/>
<rect x="1649.2" y="766.76" width="32.6" height="13.00" fill="#921f59"/>
<rect x="1638.0" y="772.01" width="10.2" height="2.5" fill="#000"/>
<text transform="translate(1632.10,780.51) scale(1.0041,1.0000)" font-size="21.7" font-weight="bold" text-anchor="end">Focal adhesion</text>
<rect x="1649.2" y="788.58" width="44.8" height="15.00" fill="#80124a"/>
<rect x="1649.2" y="789.58" width="43.8" height="13.00" fill="#921f59"/>
<rect x="1638.0" y="794.83" width="10.2" height="2.5" fill="#000"/>
<text transform="translate(1632.10,803.33) scale(1.0041,1.0000)" font-size="21.7" font-weight="bold" text-anchor="end">Secretory granule</text>
<rect x="1649.2" y="811.40" width="43.5" height="15.00" fill="#80124a"/>
<rect x="1649.2" y="812.40" width="42.5" height="13.00" fill="#921f59"/>
<rect x="1638.0" y="817.65" width="10.2" height="2.5" fill="#000"/>
<text transform="translate(1632.10,826.15) scale(1.0041,1.0000)" font-size="21.7" font-weight="bold" text-anchor="end">Anchoring junction</text>
<rect x="1649.2" y="834.22" width="48.3" height="15.00" fill="#80124a"/>
<rect x="1649.2" y="835.22" width="47.3" height="13.00" fill="#921f59"/>
<rect x="1638.0" y="840.47" width="10.2" height="2.5" fill="#000"/>
<text transform="translate(1632.10,848.97) scale(1.0041,1.0000)" font-size="21.7" font-weight="bold" text-anchor="end">Secretory vesicle</text>
<rect x="1649.2" y="857.04" width="118.2" height="15.00" fill="#80124a"/>
<rect x="1649.2" y="858.04" width="117.2" height="13.00" fill="#921f59"/>
<rect x="1638.0" y="863.29" width="10.2" height="2.5" fill="#000"/>
<text transform="translate(1632.10,871.79) scale(1.0041,1.0000)" font-size="21.7" font-weight="bold" text-anchor="end">Endomembrane system</text>
<rect x="1649.2" y="879.86" width="72.7" height="15.00" fill="#80124a"/>
<rect x="1649.2" y="880.86" width="71.7" height="13.00" fill="#921f59"/>
<rect x="1638.0" y="886.11" width="10.2" height="2.5" fill="#000"/>
<text transform="translate(1632.10,894.61) scale(1.0041,1.0000)" font-size="21.7" font-weight="bold" text-anchor="end">Cell junction</text>
<rect x="1649.2" y="902.68" width="126.2" height="15.00" fill="#80124a"/>
<rect x="1649.2" y="903.68" width="125.2" height="13.00" fill="#921f59"/>
<rect x="1638.0" y="908.93" width="10.2" height="2.5" fill="#000"/>
<text transform="translate(1632.10,917.43) scale(1.0041,1.0000)" font-size="21.7" font-weight="bold" text-anchor="end">Protein-containing complex</text>
<rect x="1647.2" y="461.3" width="2.1" height="463.3" fill="#000"/>
<rect x="1651.3" y="930.60" width="71.5" height="15.0" fill="#3a8d80"/>
<rect x="1651.3" y="931.60" width="70.5" height="13.0" fill="#47a093"/>
<rect x="1639.3" y="936.80" width="11.0" height="2.6" fill="#000"/>
<text transform="translate(1634.30,945.35) scale(1.0041,1.0000)" font-size="21.7" font-weight="bold" text-anchor="end">RNA binding</text>
<rect x="1651.3" y="953.67" width="37.9" height="15.0" fill="#3a8d80"/>
<rect x="1651.3" y="954.67" width="36.9" height="13.0" fill="#47a093"/>
<rect x="1639.3" y="959.87" width="11.0" height="2.6" fill="#000"/>
<text transform="translate(1634.30,968.42) scale(1.0041,1.0000)" font-size="21.7" font-weight="bold" text-anchor="end">Cell adhesion molecule binding</text>
<rect x="1651.3" y="976.74" width="28.3" height="15.0" fill="#3a8d80"/>
<rect x="1651.3" y="977.74" width="27.3" height="13.0" fill="#47a093"/>
<rect x="1639.3" y="982.94" width="11.0" height="2.6" fill="#000"/>
<text transform="translate(1634.30,991.49) scale(1.0041,1.0000)" font-size="21.7" font-weight="bold" text-anchor="end">Cadherin binding</text>
<rect x="1651.3" y="999.81" width="221.0" height="15.0" fill="#3a8d80"/>
<rect x="1651.3" y="1000.81" width="220.0" height="13.0" fill="#47a093"/>
<rect x="1639.3" y="1006.01" width="11.0" height="2.6" fill="#000"/>
<text transform="translate(1634.30,1014.56) scale(1.0041,1.0000)" font-size="21.7" font-weight="bold" text-anchor="end">Binding</text>
<rect x="1651.3" y="1022.88" width="125.7" height="15.0" fill="#3a8d80"/>
<rect x="1651.3" y="1023.88" width="124.7" height="13.0" fill="#47a093"/>
<rect x="1639.3" y="1029.08" width="11.0" height="2.6" fill="#000"/>
<text transform="translate(1634.30,1037.63) scale(1.0041,1.0000)" font-size="21.7" font-weight="bold" text-anchor="end">Catalytic activity</text>
<rect x="1651.3" y="1045.95" width="125.7" height="15.0" fill="#3a8d80"/>
<rect x="1651.3" y="1046.95" width="124.7" height="13.0" fill="#47a093"/>
<rect x="1639.3" y="1052.15" width="11.0" height="2.6" fill="#000"/>
<text transform="translate(1634.30,1060.70) scale(1.0041,1.0000)" font-size="21.7" font-weight="bold" text-anchor="end">Organic cyclic compound binding</text>
<rect x="1651.3" y="1069.02" width="61.6" height="15.0" fill="#3a8d80"/>
<rect x="1651.3" y="1070.02" width="60.6" height="13.0" fill="#47a093"/>
<rect x="1639.3" y="1075.22" width="11.0" height="2.6" fill="#000"/>
<text transform="translate(1634.30,1083.77) scale(1.0041,1.0000)" font-size="21.7" font-weight="bold" text-anchor="end">Nucleoside phosphate binding</text>
<rect x="1651.3" y="1092.09" width="141.6" height="15.0" fill="#3a8d80"/>
<rect x="1651.3" y="1093.09" width="140.6" height="13.0" fill="#47a093"/>
<rect x="1639.3" y="1098.29" width="11.0" height="2.6" fill="#000"/>
<text transform="translate(1634.30,1106.84) scale(1.0041,1.0000)" font-size="21.7" font-weight="bold" text-anchor="end">Protein binding</text>
<rect x="1651.3" y="1115.16" width="60.7" height="15.0" fill="#3a8d80"/>
<rect x="1651.3" y="1116.16" width="59.7" height="13.0" fill="#47a093"/>
<rect x="1639.3" y="1121.36" width="11.0" height="2.6" fill="#000"/>
<text transform="translate(1634.30,1129.91) scale(1.0041,1.0000)" font-size="21.7" font-weight="bold" text-anchor="end">Nucleotide binding</text>
<rect x="1651.3" y="1138.23" width="68.4" height="15.0" fill="#3a8d80"/>
<rect x="1651.3" y="1139.23" width="67.4" height="13.0" fill="#47a093"/>
<rect x="1639.3" y="1144.43" width="11.0" height="2.6" fill="#000"/>
<text transform="translate(1634.30,1152.98) scale(1.0041,1.0000)" font-size="21.7" font-weight="bold" text-anchor="end">Small molecule binding</text>
<rect x="1651.3" y="1161.30" width="123.5" height="15.0" fill="#3a8d80"/>
<rect x="1651.3" y="1162.30" width="122.5" height="13.0" fill="#47a093"/>
<rect x="1639.3" y="1167.50" width="11.0" height="2.6" fill="#000"/>
<text transform="translate(1634.30,1176.05) scale(1.0041,1.0000)" font-size="21.7" font-weight="bold" text-anchor="end">Heterocyclic compound binding</text>
<rect x="1651.3" y="1184.37" width="41.6" height="15.0" fill="#3a8d80"/>
<rect x="1651.3" y="1185.37" width="40.6" height="13.0" fill="#47a093"/>
<rect x="1639.3" y="1190.57" width="11.0" height="2.6" fill="#000"/>
<text transform="translate(1634.30,1199.12) scale(1.0041,1.0000)" font-size="21.7" font-weight="bold" text-anchor="end">Protein-containing complex binding</text>
<rect x="1651.3" y="1207.44" width="71.6" height="15.0" fill="#3a8d80"/>
<rect x="1651.3" y="1208.44" width="70.6" height="13.0" fill="#47a093"/>
<rect x="1639.3" y="1213.64" width="11.0" height="2.6" fill="#000"/>
<text transform="translate(1634.30,1222.19) scale(1.0041,1.0000)" font-size="21.7" font-weight="bold" text-anchor="end">Anion binding</text>
<rect x="1651.3" y="1230.51" width="59.7" height="15.0" fill="#3a8d80"/>
<rect x="1651.3" y="1231.51" width="58.7" height="13.0" fill="#47a093"/>
<rect x="1639.3" y="1236.71" width="11.0" height="2.6" fill="#000"/>
<text transform="translate(1634.30,1245.26) scale(1.0041,1.0000)" font-size="21.7" font-weight="bold" text-anchor="end">Carbohydrate derivative binding</text>
<rect x="1651.3" y="1253.58" width="62.5" height="15.0" fill="#3a8d80"/>
<rect x="1651.3" y="1254.58" width="61.5" height="13.0" fill="#47a093"/>
<rect x="1639.3" y="1259.78" width="11.0" height="2.6" fill="#000"/>
<text transform="translate(1634.30,1268.33) scale(1.0041,1.0000)" font-size="21.7" font-weight="bold" text-anchor="end">Hydrolase activity</text>
<rect x="1651.3" y="1276.65" width="51.7" height="15.0" fill="#3a8d80"/>
<rect x="1651.3" y="1277.65" width="50.7" height="13.0" fill="#47a093"/>
<rect x="1639.3" y="1282.85" width="11.0" height="2.6" fill="#000"/>
<text transform="translate(1634.30,1291.40) scale(1.0041,1.0000)" font-size="21.7" font-weight="bold" text-anchor="end">Purine nucleotide binding</text>
<rect x="1651.3" y="1299.72" width="27.6" height="15.0" fill="#3a8d80"/>
<rect x="1651.3" y="1300.72" width="26.6" height="13.0" fill="#47a093"/>
<rect x="1639.3" y="1305.92" width="11.0" height="2.6" fill="#000"/>
<text transform="translate(1634.30,1314.47) scale(1.0041,1.0000)" font-size="21.7" font-weight="bold" text-anchor="end">Oxidoreductase activity</text>
<rect x="1651.3" y="1322.79" width="51.4" height="15.0" fill="#3a8d80"/>
<rect x="1651.3" y="1323.79" width="50.4" height="13.0" fill="#47a093"/>
<rect x="1639.3" y="1328.99" width="11.0" height="2.6" fill="#000"/>
<text transform="translate(1634.30,1337.54) scale(1.0041,1.0000)" font-size="21.7" font-weight="bold" text-anchor="end">Ribonucleotide binding</text>
<rect x="1651.3" y="1345.86" width="50.6" height="15.0" fill="#3a8d80"/>
<rect x="1651.3" y="1346.86" width="49.6" height="13.0" fill="#47a093"/>
<rect x="1639.3" y="1352.06" width="11.0" height="2.6" fill="#000"/>
<text transform="translate(1634.30,1360.61) scale(1.0041,1.0000)" font-size="21.7" font-weight="bold" text-anchor="end">Purine ribonucleotide binding</text>
<rect x="1651.3" y="1368.93" width="55.5" height="15.0" fill="#3a8d80"/>
<rect x="1651.3" y="1369.93" width="54.5" height="13.0" fill="#47a093"/>
<rect x="1639.3" y="1375.13" width="11.0" height="2.6" fill="#000"/>
<text transform="translate(1634.30,1383.68) scale(1.0041,1.0000)" font-size="21.7" font-weight="bold" text-anchor="end">Enzyme binding</text>
<rect x="1649.0" y="923" width="2.6" height="480" fill="#000"/>
<rect x="1649.5" y="1389.8" width="312.3" height="2.5" fill="#000"/>
<rect x="1649.2" y="1389.8" width="2.5" height="12" fill="#000"/>
<text transform="translate(1650.84,1424.83) scale(1.0499,1.0722)" font-size="18.75" font-weight="bold" text-anchor="middle">0</text>
<rect x="1711.2" y="1389.8" width="2.5" height="12" fill="#000"/>
<text transform="translate(1712.86,1424.83) scale(1.0499,1.0722)" font-size="18.75" font-weight="bold" text-anchor="middle">100</text>
<rect x="1773.2" y="1389.8" width="2.5" height="12" fill="#000"/>
<text transform="translate(1774.88,1424.83) scale(1.0499,1.0722)" font-size="18.75" font-weight="bold" text-anchor="middle">200</text>
<rect x="1835.2" y="1389.8" width="2.5" height="12" fill="#000"/>
<text transform="translate(1836.90,1424.83) scale(1.0499,1.0722)" font-size="18.75" font-weight="bold" text-anchor="middle">300</text>
<rect x="1897.2" y="1389.8" width="2.5" height="12" fill="#000"/>
<text transform="translate(1898.92,1424.83) scale(1.0499,1.0722)" font-size="18.75" font-weight="bold" text-anchor="middle">400</text>
<rect x="1959.2" y="1389.8" width="2.5" height="12" fill="#000"/>
<text transform="translate(1960.94,1424.83) scale(1.0499,1.0722)" font-size="18.75" font-weight="bold" text-anchor="middle">500</text>
<text transform="translate(1717.78,1456.56) scale(1.0191,1.0442)" font-size="20.9" font-weight="bold">Number of genes</text>
<rect x="1972.8" y="19.2" width="18.3" height="31.3" fill="#2f5e9c"/><rect x="1976.7" y="23.1" width="10.7" height="23.7" fill="#1e16a6"/>
<rect x="1972.7" y="473.3" width="18.6" height="30.1" fill="#921e56"/>
<rect x="1974.8" y="939.3" width="19" height="32.4" fill="#4aa093"/>
<text transform="translate(1974.57,64.07) rotate(90) scale(1.0134,1.0367)" font-size="20.75">Biological pathways</text>
<text transform="translate(1974.59,517.59) rotate(90) scale(1.0043,1.0367)" font-size="21">Cellular components</text>
<text transform="translate(1975.94,985.77) rotate(90) scale(1.0080,1.0516)" font-size="21">Molecular functions</text>
<text transform="translate(1102.69,45.85) scale(1.0264,1.0415)" font-size="50"><tspan>(</tspan><tspan font-weight="bold">c</tspan><tspan>)</tspan></text>
</svg>
</body></html>
